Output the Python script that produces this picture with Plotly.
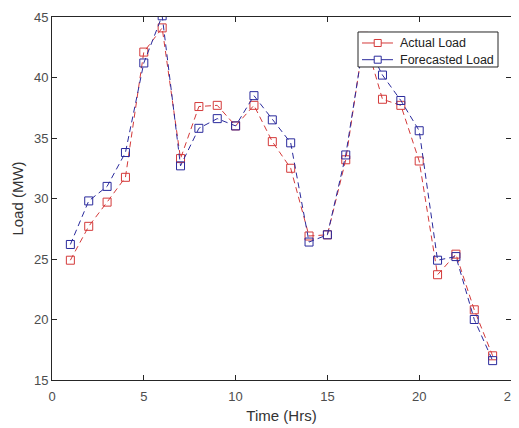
import plotly.graph_objects as go

hours = list(range(1, 25))
actual_load = [24.9, 27.7, 29.7, 31.75, 42.1, 44.1, 33.3, 37.6, 37.7, 36.0, 37.7, 34.7,
               32.5, 26.9, 27.0, 33.2, 43.4, 38.2, 37.7, 33.1, 23.7, 25.4, 20.8, 17.0]
forecast_load = [26.2, 29.8, 31.0, 33.8, 41.2, 45.1, 32.7, 35.8, 36.6, 36.0, 38.5, 36.5,
                 34.6, 26.4, 27.0, 33.6, 43.2, 40.2, 38.1, 35.6, 24.9, 25.2, 20.0, 16.6]
series_names = ["Actual Load", "Forecasted Load"]
x_ticks = [0, 5, 10, 15, 20, 25]
y_ticks = [15, 20, 25, 30, 35, 40, 45]

RED = "#d43a3a"
BLUE = "#2a2a9c"
AXC = "#262626"
FONT = "Liberation Sans, Arial, sans-serif"

fig = go.Figure()
for name, vals, col in [(series_names[0], actual_load, RED), (series_names[1], forecast_load, BLUE)]:
    fig.add_trace(go.Scatter(x=hours, y=vals, name=name, mode="lines+markers", showlegend=False,
                             line=dict(color=col, width=1, dash="6px,4px"),
                             marker=dict(symbol="square-open", size=8, color=col,
                                         line=dict(width=1, color=col))))

axis_common = dict(showgrid=False, zeroline=False, showline=True, linecolor=AXC, linewidth=1,
                   mirror="ticks", ticks="inside", ticklen=5, tickcolor=AXC, automargin=False,
                   tickfont=dict(family=FONT, size=13, color="#4d4d4d"))
fig.update_xaxes(range=[0, 25], tickvals=x_ticks, ticklabelstandoff=4,
                 title=dict(text="Time (Hrs)", font=dict(family=FONT, size=15, color="#333333"), standoff=7),
                 **axis_common)
fig.update_yaxes(range=[15, 45], tickvals=y_ticks, ticklabelstandoff=0,
                 title=dict(text="Load (MW)", font=dict(family=FONT, size=15, color="#333333"), standoff=6),
                 **axis_common)

# Legend box (MATLAB-style, compact) drawn on top of the data
shapes = [dict(type="rect", xref="paper", yref="paper", x0=0.6667, x1=0.9717, y0=0.8623, y1=0.9587,
               fillcolor="white", line=dict(color=AXC, width=1), layer="above")]
annotations = []
for name, col, yp in [(series_names[0], RED, 0.9284), (series_names[1], BLUE, 0.8824)]:
    shapes.append(dict(type="line", xref="paper", yref="paper", x0=0.6754, x1=0.7429, y0=yp, y1=yp,
                       line=dict(color=col, width=1), layer="above"))
    shapes.append(dict(type="rect", xref="paper", yref="paper", xsizemode="pixel", ysizemode="pixel",
                       xanchor=0.7096, yanchor=yp, x0=-3.5, x1=3.5, y0=-3.5, y1=3.5,
                       fillcolor="white", line=dict(color=col, width=1), layer="above"))
    annotations.append(dict(xref="paper", yref="paper", x=0.7532, y=yp, xanchor="left", yanchor="middle",
                            text=name, showarrow=False,
                            font=dict(family=FONT, size=12.5, color="#222222")))

# The page body has an 8px margin, so the figure is sized/offset to compensate.
fig.update_layout(
    width=511, height=420,
    margin=dict(l=44, r=8, t=9, b=48),
    paper_bgcolor="white", plot_bgcolor="white",
    showlegend=False,
    shapes=shapes, annotations=annotations,
)

fig.write_html("out.html")
